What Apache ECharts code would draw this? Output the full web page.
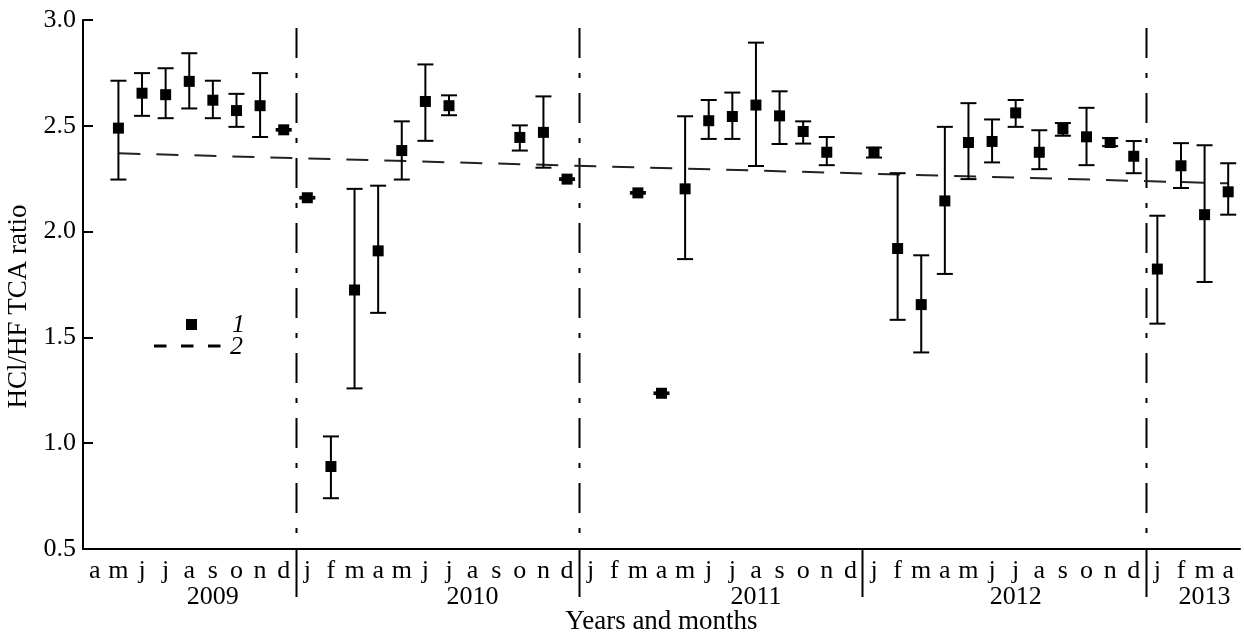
<!DOCTYPE html>
<html>
<head>
<meta charset="utf-8">
<script src="https://cdn.jsdelivr.net/npm/echarts@6/dist/echarts.min.js"></script>
<style>
html, body { margin: 0; padding: 0; background: #fff; }
#chart { width: 1244px; height: 636px; }
</style>
</head>
<body>
<div id="chart"></div>
<script>
// months from April 2009 to April 2013
const monthLabels = [
  "a", "m", "j", "j", "a", "s", "o", "n", "d",
  "j", "f", "m", "a", "m", "j", "j", "a", "s", "o", "n", "d",
  "j", "f", "m", "a", "m", "j", "j", "a", "s", "o", "n", "d",
  "j", "f", "m", "a", "m", "j", "j", "a", "s", "o", "n", "d",
  "j", "f", "m", "a"
];
const yearLabels = ["2009", "2010", "2011", "2012", "2013"];
const yearLabelAt = [5, 16, 28, 39, 47];
const yearStarts = [9, 21, 33, 45];
const yearDashed = [1, 1, 0, 1];

// monthly mean HCl/HF ratio, with error bar ends
const ratio = [
  null, 2.489, 2.654, 2.647, 2.710, 2.621, 2.572, 2.595, 2.481,
  2.160, 0.890, 1.724, 1.909, 2.383, 2.615, 2.595, null, null, 2.445, 2.469, 2.248,
  null, null, 2.183, 1.236, 2.202, 2.524, 2.544, 2.598, 2.547, 2.473, 2.375, null,
  2.375, 1.920, 1.655, 2.145, 2.421, 2.426, 2.561, 2.375, 2.485, 2.448, 2.421, 2.356,
  1.823, 2.311, 2.080, 2.188
];
const ratioLow = [
  null, 2.246, 2.547, 2.536, 2.582, 2.536, 2.495, 2.447, 2.477,
  2.156, 0.740, 1.259, 1.616, 2.246, 2.429, 2.550, null, null, 2.383, 2.302, 2.244,
  null, null, 2.179, 1.232, 1.870, 2.438, 2.438, 2.310, 2.414, 2.416, 2.314, null,
  2.350, 1.583, 1.429, 1.800, 2.248, 2.327, 2.495, 2.295, 2.453, 2.314, 2.404, 2.276,
  1.565, 2.206, 1.762, 2.080
];
const ratioHigh = [
  null, 2.713, 2.749, 2.772, 2.843, 2.713, 2.651, 2.749, 2.485,
  2.164, 1.032, 2.202, 2.217, 2.521, 2.790, 2.644, null, null, 2.502, 2.639, 2.252,
  null, null, 2.187, 1.240, 2.545, 2.622, 2.657, 2.893, 2.663, 2.521, 2.447, null,
  2.397, 2.276, 1.888, 2.495, 2.607, 2.530, 2.622, 2.479, 2.513, 2.585, 2.442, 2.428,
  2.075, 2.418, 2.408, 2.323
];

// linear trend, given by its two end values
const trendAt = [1, 48];
const trendEnds = [2.370, 2.228];

const yTicks = { min: 0.5, max: 3.0, step: 0.5 };

const FONT = "'Liberation Serif', 'DejaVu Serif', serif";

const points = [];
const bars = [];
ratio.forEach((v, i) => {
  if (v === null) return;
  points.push([i, v]);
  bars.push([i, ratioLow[i], ratioHigh[i]]);
});
const trend = monthLabels.map((_, i) => {
  const k = trendAt.indexOf(i);
  return k < 0 ? null : trendEnds[k];
});
const dividers = yearStarts.map((s, i) => [s, yearDashed[i]]);

const chart = echarts.init(document.getElementById("chart"), null, { renderer: "canvas" });

chart.setOption({
  animation: false,
  backgroundColor: "#fff",
  textStyle: { fontFamily: FONT, color: "#000" },
  grid: { left: 83, right: 4, top: 20, bottom: 87, outerBoundsMode: "none" },
  xAxis: [
    {
      type: "category",
      data: monthLabels,
      boundaryGap: true,
      name: "Years and months",
      nameLocation: "middle",
      nameGap: 59,
      nameTextStyle: { fontFamily: FONT, fontSize: 27, color: "#000" },
      axisLine: { lineStyle: { color: "#000", width: 2 } },
      axisTick: { inside: true, length: 9, lineStyle: { color: "#000", width: 2 } },
      axisLabel: { interval: 0, margin: 9, fontFamily: FONT, fontSize: 26, color: "#000" },
      splitLine: { show: false }
    },
    {
      type: "category",
      data: monthLabels,
      boundaryGap: true,
      position: "bottom",
      axisLine: { show: false },
      axisTick: { show: false },
      axisLabel: {
        interval: 0,
        margin: 35,
        fontFamily: FONT,
        fontSize: 26,
        color: "#000",
        formatter: (v, i) => {
          const k = yearLabelAt.indexOf(i);
          return k < 0 ? "" : yearLabels[k];
        }
      },
      splitLine: { show: false }
    }
  ],
  yAxis: {
    type: "value",
    min: yTicks.min,
    max: yTicks.max,
    interval: yTicks.step,
    name: "HCl/HF TCA ratio",
    nameLocation: "middle",
    nameGap: 44,
    nameRotate: 90,
    nameTextStyle: { fontFamily: FONT, fontSize: 27, color: "#000", padding: [0, 44, 0, 0] },
    axisLine: { show: true, lineStyle: { color: "#000", width: 2 } },
    axisTick: { show: true, inside: true, length: 10, lineStyle: { color: "#000", width: 2 } },
    axisLabel: {
      margin: 7,
      fontFamily: FONT,
      fontSize: 26,
      color: "#000",
      formatter: v => v.toFixed(1)
    },
    splitLine: { show: false }
  },
  series: [
    {
      name: "dividers",
      type: "custom",
      xAxisIndex: 0,
      clip: false,
      silent: true,
      data: dividers,
      encode: { x: 0 },
      renderItem: (params, api) => {
        const base = api.coord([api.value(0), yTicks.min]);
        const band = api.size([1, 0])[0];
        const x = Math.round(base[0] - band / 2) + 0.5;
        const kids = [{
          type: "line",
          shape: { x1: x, y1: base[1], x2: x, y2: base[1] + 48 },
          style: { stroke: "#000", lineWidth: 2 }
        }];
        if (api.value(1)) {
          kids.push({
            type: "line",
            shape: { x1: x, y1: params.coordSys.y + 8, x2: x, y2: base[1] },
            style: { stroke: "#000", lineWidth: 2, lineDash: [30, 15, 5, 15] }
          });
        }
        return { type: "group", children: kids };
      }
    },
    {
      name: "2",
      type: "line",
      data: trend,
      connectNulls: true,
      symbol: "none",
      silent: true,
      lineStyle: { color: "#222", width: 2, type: [22, 16] },
      z: 3
    },
    {
      name: "errors",
      type: "custom",
      data: bars,
      encode: { x: 0, y: [1, 2] },
      silent: true,
      renderItem: (params, api) => {
        const lo = api.coord([api.value(0), api.value(1)]);
        const hi = api.coord([api.value(0), api.value(2)]);
        const w = 8;
        const style = { stroke: "#000", lineWidth: 2 };
        return {
          type: "group",
          children: [
            { type: "line", shape: { x1: lo[0], y1: lo[1], x2: hi[0], y2: hi[1] }, style },
            { type: "line", shape: { x1: lo[0] - w, y1: lo[1], x2: lo[0] + w, y2: lo[1] }, style },
            { type: "line", shape: { x1: hi[0] - w, y1: hi[1], x2: hi[0] + w, y2: hi[1] }, style }
          ]
        };
      },
      z: 4
    },
    {
      name: "1",
      type: "scatter",
      data: points,
      symbol: "rect",
      symbolSize: 11,
      itemStyle: { color: "#000", opacity: 1 },
      z: 5
    }
  ],
  graphic: [
    { type: "rect", shape: { x: 186, y: 319, width: 11, height: 11 }, style: { fill: "#000" } },
    {
      type: "text", x: 232, y: 325,
      style: { text: "1", font: "italic 26px " + FONT, fill: "#000", verticalAlign: "middle" }
    },
    {
      type: "line",
      shape: { x1: 154, y1: 346, x2: 221, y2: 346 },
      style: { stroke: "#000", lineWidth: 3, lineDash: [12.5, 14.5] }
    },
    {
      type: "text", x: 230, y: 347,
      style: { text: "2", font: "italic 26px " + FONT, fill: "#000", verticalAlign: "middle" }
    }
  ]
});
</script>
</body>
</html>
